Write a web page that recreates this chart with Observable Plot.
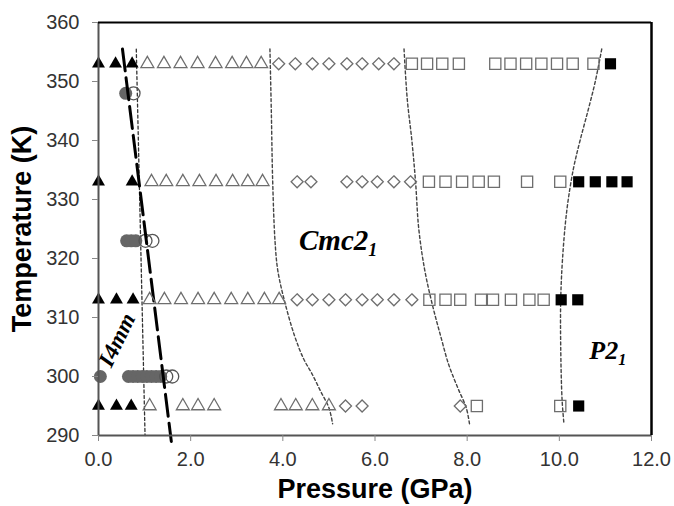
<!DOCTYPE html>
<html><head><meta charset="utf-8">
<script src="https://cdn.jsdelivr.net/npm/d3@7"></script>
<script src="https://cdn.jsdelivr.net/npm/@observablehq/plot@0.6"></script>
<style>body{margin:0;background:#fff}</style>
</head><body><div id="chart"></div>
<script>
// Axis ticks
const xTicks = [0, 2, 4, 6, 8, 10, 12];
const yTicks = [290, 300, 310, 320, 330, 340, 350, 360];

// [pressure GPa, temperature K]
const i4mmTriangles = [[0,353],[0.37,353],[0.73,353],[0,333],[0.73,333],[0,313],[0.39,313],[0.75,313],[0,295],[0.39,295],[0.71,295]];
const openTriangles = [
  [1.06,353],[1.42,353],[1.78,353],[2.15,353],[2.54,353],[2.90,353],[3.21,353],[3.53,353],
  [1.15,333],[1.47,333],[1.83,333],[2.19,333],[2.55,333],[2.91,333],[3.24,333],[3.56,333],
  [1.11,313],[1.43,313],[1.79,313],[2.16,313],[2.51,313],[2.88,313],[3.24,313],[3.60,313],[3.92,313],
  [1.11,295],[1.83,295],[2.16,295],[2.51,295],[3.96,295],[4.28,295],[4.64,295],[5.00,295]
];
const openDiamonds = [
  [3.91,353],[4.27,353],[4.64,353],[5.00,353],[5.39,353],[5.72,353],[6.08,353],[6.41,353],
  [4.31,333],[4.61,333],[5.39,333],[5.72,333],[6.05,333],[6.41,333],[6.77,333],
  [4.31,313],[4.64,313],[5.00,313],[5.36,313],[5.72,313],[6.05,313],[6.41,313],[6.80,313],
  [5.36,295],[5.72,295],[7.85,295]
];
const openSquares = [
  [6.80,353],[7.13,353],[7.46,353],[7.82,353],[8.61,353],[8.94,353],[9.28,353],[9.61,353],[9.95,353],[10.29,353],[10.74,353],
  [7.17,333],[7.53,333],[7.89,333],[8.25,333],[8.58,333],[9.30,333],[10.02,333],
  [7.18,313],[7.53,313],[7.85,313],[8.30,313],[8.56,313],[8.95,313],[9.35,313],[9.66,313],
  [8.21,295],[10.02,295]
];
const blackSquares = [[11.11,353],[10.42,333],[10.78,333],[11.14,333],[11.47,333],[10.04,313],[10.40,313],[10.42,295]];
const greyCircles = [[0.59,348],[0.61,323],[0.71,323],[0.81,323],[0.04,300],[0.65,300],[0.75,300],[0.85,300],[0.95,300],[1.05,300],[1.15,300],[1.25,300],[1.35,300]];
const openCircles = [[0.76,348],[1.02,323],[1.17,323],[1.47,300],[1.60,300]];

// Boundaries
const boundaryI4mm = [[0.52,355.5],[1.58,289]];
const boundaryThin = [[0.82,355.5],[1.01,290]];
const boundary1 = [[3.72,355.5],[3.75,345],[3.78,333],[3.83,323],[3.89,318],[4.03,313],[4.25,307],[4.45,303],[4.63,300.5],[4.82,297.5],[5.0,294.7],[5.08,292]];
const boundary2 = [[6.63,355.5],[6.70,347],[6.80,340],[6.88,333],[6.95,325],[7.08,318],[7.25,312],[7.42,307],[7.6,302],[7.8,298],[7.98,294.7],[8.05,292]];
const boundary3 = [[10.92,355.5],[10.78,350],[10.62,345],[10.45,340],[10.30,335],[10.16,328],[10.07,320],[10.03,313],[10.03,305],[10.06,296],[10.10,292]];

// Phase labels
const phaseNames = ["I4mm", "Cmc21", "P21"];
const phaseP = [0.40, 5.2, 11.05];
const phaseT = [306.2, 323, 304.3];
const phaseRotate = [-64, 0, 0];
const phaseSize = [23, 29, 26];
const phases = phaseNames.map((n, i) => ({name: n, P: phaseP[i], T: phaseT[i], rot: phaseRotate[i], size: phaseSize[i]}));

const X = d => d[0], Y = d => d[1];
const greyStroke = "#6e6e6e";
const dotted = {x: X, y: Y, stroke: "#444", strokeWidth: 1.4, strokeDasharray: "3,2.5", curve: "catmull-rom"};

const plot = Plot.plot({
  width: 674, height: 506,
  marginLeft: 98, marginRight: 23, marginTop: 22, marginBottom: 71,
  style: {fontFamily: "'Liberation Sans', Arial, sans-serif", fontSize: "20px", color: "#333", background: "#fff"},
  x: {domain: [0, 12]},
  y: {domain: [290, 360]},
  marks: [
    Plot.line(boundaryThin, {x: X, y: Y, stroke: "#333", strokeWidth: 1.3, strokeDasharray: "3,2.5"}),
    Plot.line(boundary1, dotted),
    Plot.line(boundary2, dotted),
    Plot.line(boundary3, dotted),
    Plot.dot(greyCircles, {x: X, y: Y, r: 6.5, fill: "#666"}),
    Plot.dot(openCircles, {x: X, y: Y, r: 6.5, fill: "none", stroke: "#555", strokeWidth: 1.3}),
    Plot.line(boundaryI4mm, {x: X, y: Y, stroke: "#000", strokeWidth: 3, strokeDasharray: "22,7"}),
    Plot.dot(i4mmTriangles, {x: X, y: Y, symbol: "triangle", r: 4.8, fill: "#000"}),
    Plot.dot(openTriangles, {x: X, y: Y, symbol: "triangle", r: 4.8, fill: "none", stroke: greyStroke, strokeWidth: 1.3}),
    Plot.dot(openDiamonds, {x: X, y: Y, symbol: "diamond2", r: 5.4, fill: "none", stroke: greyStroke, strokeWidth: 1.3}),
    Plot.dot(openSquares, {x: X, y: Y, symbol: "square", r: 6.3, fill: "none", stroke: greyStroke, strokeWidth: 1.3}),
    Plot.dot(blackSquares, {x: X, y: Y, symbol: "square", r: 6.3, fill: "#000"}),
    Plot.text(phases, {x: "P", y: "T", text: "name", rotate: "rot", fontSize: d => d.size, fontFamily: "'Liberation Serif', 'Times New Roman', serif", fontWeight: "bold", fontStyle: "italic", fill: "#000"}),
    Plot.ruleX([0], {stroke: "#555", strokeWidth: 2}),
    Plot.ruleY([290], {stroke: "#555", strokeWidth: 2}),
    Plot.ruleX([12], {stroke: "#000", strokeWidth: 2.5}),
    Plot.ruleY([360], {stroke: "#000", strokeWidth: 2}),
    Plot.axisX({ticks: xTicks, tickFormat: d => d.toFixed(1), tickSize: 6, tickPadding: 10, stroke: "#888", label: null}),
    Plot.axisY({ticks: yTicks, tickSize: 6, tickPadding: 13, stroke: "#888", label: null}),
    Plot.text(["Pressure (GPa)"], {frameAnchor: "bottom", dy: 62, textAnchor: "middle", fontSize: 27, fontWeight: "bold", fill: "#000"}),
    Plot.text(["Temperature (K)"], {frameAnchor: "left", dx: -76, rotate: -90, textAnchor: "middle", lineAnchor: "middle", fontSize: 27, fontWeight: "bold", fill: "#000"})
  ]
});

// subscripts for the phase names
d3.select(plot).selectAll("text").each(function() {
  const t = this.textContent;
  if (t === "Cmc21" || t === "P21") {
    const s = d3.select(this);
    s.text(null);
    s.append("tspan").text(t.slice(0, -1));
    s.append("tspan").attr("font-size", "0.62em").attr("dy", "0.35em").text("1");
  }
});

document.getElementById("chart").appendChild(plot);
</script>
</body></html>
